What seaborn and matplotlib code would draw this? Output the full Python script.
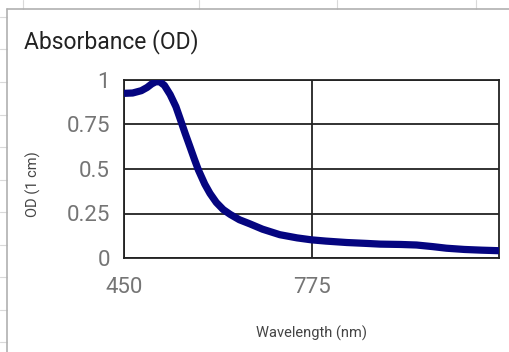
import matplotlib
matplotlib.use("Agg")
import matplotlib.pyplot as plt
from matplotlib.lines import Line2D
import seaborn as sns
import pandas as pd

wavelength = [450, 465, 480, 490, 498, 505, 512, 520, 530, 540, 547, 556, 564, 572, 579,
              590, 599, 610, 622, 634, 650, 668, 690, 720, 750, 775, 800, 836, 870, 894,
              930, 957, 985, 1009, 1040, 1070, 1100]
od = [0.925, 0.927, 0.940, 0.958, 0.978, 0.990, 0.990, 0.970, 0.918, 0.850, 0.785, 0.700, 0.628, 0.555, 0.494,
      0.415, 0.363, 0.312, 0.272, 0.245, 0.215, 0.192, 0.162, 0.131, 0.113, 0.102, 0.095, 0.087, 0.082, 0.078,
      0.076, 0.073, 0.064, 0.055, 0.048, 0.044, 0.041]
x_ticks = [450, 775]
y_ticks = [0, 0.25, 0.5, 0.75, 1]
y_tick_labels = ["0", "0.25", "0.5", "0.75", "1"]

df = pd.DataFrame({"Wavelength (nm)": wavelength, "OD (1 cm)": od})

sns.set_theme(style="white")
plt.rcParams["font.family"] = ["Roboto", "DejaVu Sans"]

W, H = 510, 352
fig = plt.figure(figsize=(W / 100, H / 100), dpi=100)
fig.patch.set_facecolor("white")

def fx(px):
    return px / W

def fy(py):
    return 1 - py / H

# spreadsheet background grid
grid_c = "#d9d9d9"
for yy in [17, 49, 82, 115, 147, 180, 212, 245, 277, 310, 342]:
    fig.add_artist(Line2D([fx(0), fx(7)], [fy(yy), fy(yy)], color=grid_c, lw=0.8))
for xx in [23, 199, 337, 476]:
    fig.add_artist(Line2D([fx(xx), fx(xx)], [fy(0), fy(9)], color=grid_c, lw=0.8))
# chart frame
fig.add_artist(Line2D([fx(7), fx(7)], [fy(9), fy(352)], color="#b0b0b0", lw=1.2))
fig.add_artist(Line2D([fx(7), fx(510)], [fy(9), fy(9)], color="#b0b0b0", lw=1.2))

left, right, top, bottom = 124, 499, 80, 258
ax = fig.add_axes([fx(left), fy(bottom), (right - left) / W, (bottom - top) / H])

sns.lineplot(data=df, x="Wavelength (nm)", y="OD (1 cm)", ax=ax,
             color="#050580", lw=5.2, solid_capstyle="butt", solid_joinstyle="round",
             clip_on=True, zorder=3)

ax.set_xlim(450, 1100)
ax.set_ylim(0, 1)
ax.set_xticks(x_ticks)
ax.set_yticks(y_ticks)
ax.set_yticklabels(y_tick_labels)
ax.grid(True, color="#222222", lw=1.3)
ax.set_axisbelow(True)
for s in ax.spines.values():
    s.set_color("#222222")
    s.set_linewidth(1.3)
    s.set_visible(True)

ax.tick_params(axis="both", length=0, labelsize=16, colors="#757575", labelcolor="#757575")
ax.tick_params(axis="y", pad=10)
ax.tick_params(axis="x", pad=14)

ax.set_xlabel("Wavelength (nm)", fontsize=10.5, color="#444444")
ax.set_ylabel("OD (1 cm)", fontsize=10.5, color="#444444")
ax.xaxis.set_label_coords((312 - left) / (right - left), (bottom - 333) / (bottom - top))
ax.yaxis.set_label_coords((33 - left) / (right - left), (bottom - 184) / (bottom - top))
ax.xaxis.label.set_va("center")
ax.yaxis.label.set_va("center")

fig.text(fx(24), fy(42), "Absorbance (OD)", fontsize=16.5, color="#222222", va="center", ha="left")

fig.savefig("out.png", dpi=100)
